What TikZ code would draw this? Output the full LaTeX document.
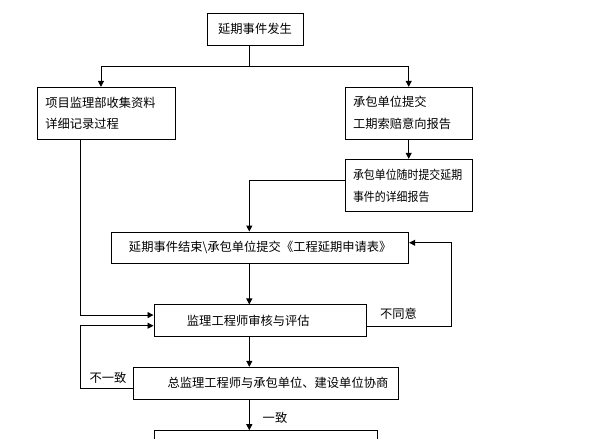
\documentclass[tikz,border=0pt]{standalone}
\usepackage{fontspec}
\setmainfont{Noto Sans CJK SC}
\newfontfamily\narrowcjk{Noto Sans CJK SC}[FakeStretch=0.89]
\usetikzlibrary{positioning,arrows.meta}

\begin{document}
\begin{tikzpicture}[x=0.75pt,y=-0.75pt,line width=0.7pt,font=\fontsize{9.2pt}{16.3pt}\selectfont,
    flowbox/.style={draw,rectangle,inner ysep=0pt},
    arr/.style={-{Triangle[length=4.5pt,width=4.5pt]}}]
    \useasboundingbox (0,0) rectangle (591,438);
    \clip (0,0) rectangle (591,438);
    \node[flowbox,minimum width=72pt,minimum height=24pt] (start) at (255,29) {延期事件发生};
    \node[flowbox,inner xsep=6pt,text width=91.5pt,minimum height=38.8pt,align=left] (collect) at (106.3,113.2) {项目监理部收集资料\\详细记录过程};
    \node[flowbox,inner xsep=6pt,text width=83.5pt,minimum height=38.8pt,align=left] (notice) at (408.7,113.2) {承包单位提交\\工期索赔意向报告};
    \node[flowbox,inner xsep=6pt,text width=83.5pt,minimum height=39.3pt,align=left,font=\fontsize{9.2pt}{16.3pt}\narrowcjk] (detail) at (408.7,185.5) {承包单位随时提交延期\\事件的详细报告};
    \node[flowbox,minimum width=222.75pt,minimum height=23.5pt] (apply) at (260.2,247.7) {延期事件结束\textbackslash 承包单位提交《工程延期申请表》};
    \node[flowbox,inner xsep=24.75pt,text width=110pt,minimum height=23.8pt,align=left] (review) at (260.3,320.8) {监理工程师审核与评估};
    \node[flowbox,inner xsep=7.5pt,text width=183.75pt,minimum height=23.8pt,align=right] (consult) at (265.8,383.2) {总监理工程师与承包单位、建设单位协商};
    \node[flowbox,minimum width=167.25pt,minimum height=24pt] (result) at (265.5,446.7) {};
    \node (disagree) at (398.5,314) {不同意};
    \node (differ) at (108,378) {不一致};
    \node (agree) at (275,418) {一致};
    \coordinate (spine) at (249.3,66.7);
    \coordinate (lft) at (80,0);
    \coordinate (rgt) at (451.7,0);
    \draw (start.south -| spine) -- (spine);
    \draw[arr] (spine) -| ([xshift=-4pt]collect.north);
    \draw[arr] (spine) -| (notice.north);
    \draw[arr] (notice) -- (detail);
    \draw[arr] ([yshift=3.6pt]detail.west) -| (apply.north -| spine);
    \draw[arr] (apply.south -| spine) -- (review.north -| spine);
    \draw[arr] (review.south -| spine) -- (consult.north -| spine);
    \draw[arr] (consult.south -| spine) -- (result.north -| spine);
    \draw[arr] (collect.south -| lft) |- ([yshift=4.3pt]review.west);
    \draw[arr] ([yshift=-3.8pt]consult.west) -| ([yshift=-3.7pt]review.west -| lft) -- ([yshift=-3.7pt]review.west);
    \draw[arr] ([yshift=-3.9pt]review.east) -| ([yshift=3.7pt]apply.east -| rgt) -- ([yshift=3.7pt]apply.east);
  \end{tikzpicture}
\end{document}
